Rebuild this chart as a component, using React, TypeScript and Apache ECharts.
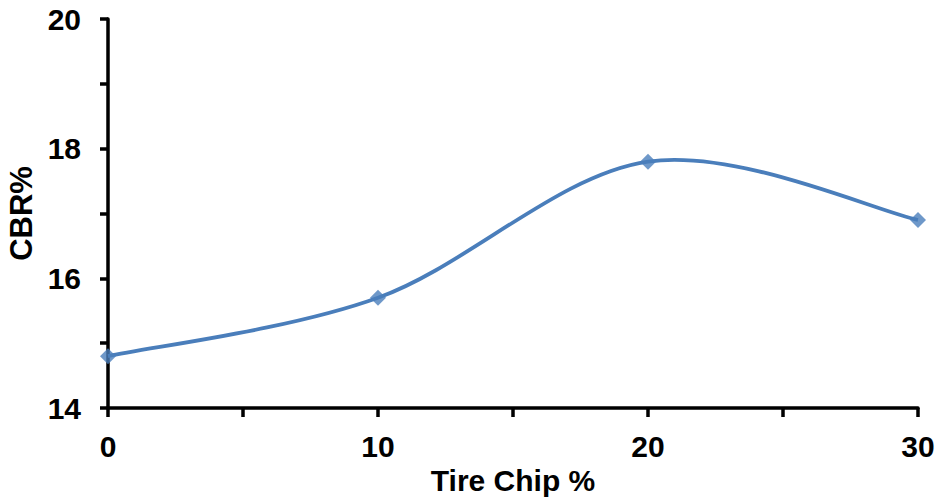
import React, { useEffect, useRef } from "react";
import * as echarts from "echarts";

const tireChip = [0, 10, 20, 30];
const cbr = [14.8, 15.7, 17.8, 16.9];
const xTickLabels = [0, 10, 20, 30];
const yTickLabels = [14, 16, 18, 20];

export default function App() {
  const ref = useRef<HTMLDivElement>(null);
  useEffect(() => {
    if (!ref.current) return;
    const chart = echarts.init(ref.current, null, { renderer: "svg" });
    const font = "Liberation Sans, Arial, sans-serif";
    const color = "#4a7ebb";
    const points = tireChip.map((x, i) => [x, cbr[i]]);
    chart.setOption({
      animation: false,
      backgroundColor: "#ffffff",
      grid: { left: 108, right: 20, top: 19, bottom: 89, containLabel: false, outerBoundsMode: "none" },
      xAxis: {
        type: "value",
        min: 0,
        max: 30,
        interval: 5,
        name: "Tire Chip %",
        nameLocation: "middle",
        nameGap: 51,
        nameTextStyle: { fontFamily: font, fontWeight: "bold", fontSize: 30, lineHeight: 28, verticalAlign: "middle", color: "#000" },
        axisLine: { lineStyle: { color: "#000", width: 3.5 } },
        axisTick: { show: true, inside: false, length: 9, lineStyle: { color: "#000", width: 3.5 } },
        axisLabel: {
          margin: 23,
          fontFamily: font,
          fontWeight: "bold",
          fontSize: 30,
          color: "#000",
          formatter: (v: number) => (xTickLabels.includes(v) ? String(v) : ""),
        },
        splitLine: { show: false },
      },
      yAxis: {
        type: "value",
        min: 14,
        max: 20,
        interval: 1,
        name: "CBR%",
        nameLocation: "middle",
        nameGap: 67,
        nameRotate: 90,
        nameTextStyle: { fontFamily: font, fontWeight: "bold", fontSize: 31, color: "#000" },
        axisLine: { show: true, lineStyle: { color: "#000", width: 3.5 } },
        axisTick: { show: true, inside: false, length: 8, lineStyle: { color: "#000", width: 3.5 } },
        axisLabel: {
          margin: 27,
          fontFamily: font,
          fontWeight: "bold",
          fontSize: 30,
          color: "#000",
          formatter: (v: number) => (yTickLabels.includes(v) ? String(v) : ""),
        },
        splitLine: { show: false },
      },
      series: [
        {
          type: "custom",
          data: points,
          clip: false,
          renderItem: (params: any, api: any) => {
            if (params.dataIndex !== 0) return null;
            const p = points.map((d) => api.coord(d));
            const n = p.length;
            let d = `M${p[0][0]},${p[0][1]}`;
            for (let i = 0; i < n - 1; i++) {
              const p0 = p[Math.max(i - 1, 0)];
              const p1 = p[i];
              const p2 = p[i + 1];
              const p3 = p[Math.min(i + 2, n - 1)];
              const c1x = p1[0] + (p2[0] - p0[0]) / 6;
              const c1y = p1[1] + (p2[1] - p0[1]) / 6;
              const c2x = p2[0] - (p3[0] - p1[0]) / 6;
              const c2y = p2[1] - (p3[1] - p1[1]) / 6;
              d += ` C${c1x},${c1y} ${c2x},${c2y} ${p2[0]},${p2[1]}`;
            }
            return {
              type: "path",
              shape: { pathData: d },
              style: { stroke: color, lineWidth: 3.8, fill: "none" },
            };
          },
          z: 2,
        },
        {
          type: "scatter",
          data: points,
          symbol: "diamond",
          symbolSize: 16,
          itemStyle: { color },
          z: 3,
        },
      ],
    });
    return () => chart.dispose();
  }, []);
  return <div ref={ref} style={{ width: 938, height: 497, position: "absolute", left: 0, top: 0 }} />;
}
